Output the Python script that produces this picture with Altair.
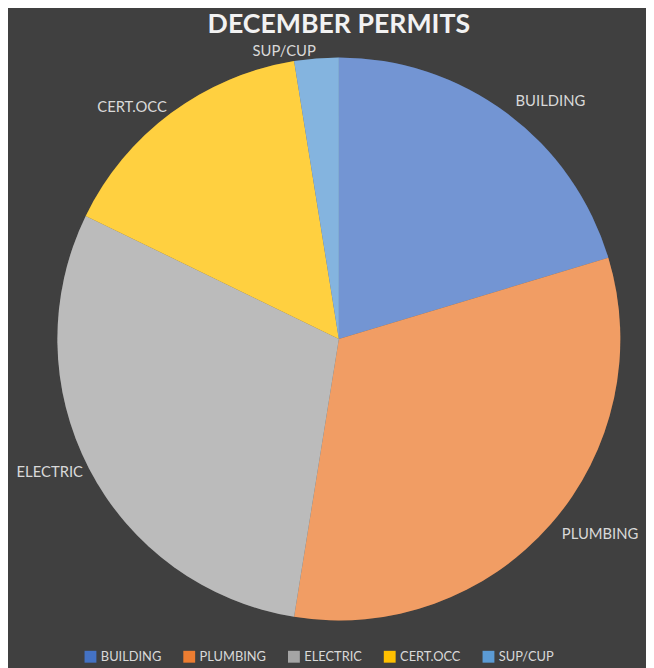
import altair as alt
import pandas as pd

categories = ["BUILDING", "PLUMBING", "ELECTRIC", "CERT.OCC", "SUP/CUP"]
permits = [24, 38, 35, 18, 3]
colors = ["#4472C4", "#ED7D31", "#A5A5A5", "#FFC000", "#5B9BD5"]
title_text = ["DECEMBER PERMITS"]

df = pd.DataFrame({"type": categories, "count": permits, "k": list(range(len(categories)))})
tdf = pd.DataFrame({"t": title_text})

CX, CY, R = 335, 331, 285
FONT = "Lato"
LABEL = "#D9D9D9"

base = alt.Chart(df)

color = alt.Color(
    "type:N",
    scale=alt.Scale(domain=categories, range=colors),
    sort=categories,
    legend=alt.Legend(
        title=None, orient="none", legendX=77, legendY=646, direction="horizontal",
        symbolType="square", symbolSize=144, symbolStrokeWidth=0, symbolOpacity=1,
        labelColor=LABEL, labelFont=FONT, labelFontSize=13, labelOffset=4,
        columnPadding=21, padding=0,
    ),
)

arcs = base.mark_arc(radius=R, strokeWidth=0).encode(
    theta=alt.Theta("count:Q", stack=True),
    color=color,
    order=alt.Order("k:Q"),
    x=alt.value(CX), y=alt.value(CY),
)

sheen = base.mark_arc(radius=R, color="white", opacity=0.25, strokeWidth=0).encode(
    theta=alt.Theta("count:Q", stack=True),
    order=alt.Order("k:Q"),
    x=alt.value(CX), y=alt.value(CY),
)

lab = (
    base.transform_window(cum="sum(count)", sort=[alt.SortField("k")])
    .transform_joinaggregate(total="sum(count)")
    .transform_calculate(mid="datum.cum - datum.count / 2",
                         frac="(datum.cum - datum.count / 2) / datum.total")
)

right = lab.transform_filter("datum.frac < 0.5").mark_text(
    radius=300, align="left", baseline="middle", font=FONT, fontSize=15, color=LABEL
).encode(theta=alt.Theta("mid:Q"), text="type:N", x=alt.value(CX), y=alt.value(CY))

left = lab.transform_filter("datum.frac >= 0.5").mark_text(
    radius=292, align="right", baseline="middle", font=FONT, fontSize=15, color=LABEL
).encode(theta=alt.Theta("mid:Q"), text="type:N", x=alt.value(CX), y=alt.value(CY))

title = alt.Chart(tdf).mark_text(
    font=FONT, fontSize=27, fontWeight="bold", color="#F2F2F2",
    align="center", baseline="top",
).encode(text="t:N", x=alt.value(335), y=alt.value(0))

chart = (
    alt.layer(arcs, sheen, right, left, title)
    .properties(
        width=646, height=660,
        padding=0,
        autosize=alt.AutoSizeParams(type="none"),
        background="#404040",
    )
    .configure_view(strokeWidth=0)
)

chart.save("out.html", embed_options={"renderer": "svg", "actions": False})
